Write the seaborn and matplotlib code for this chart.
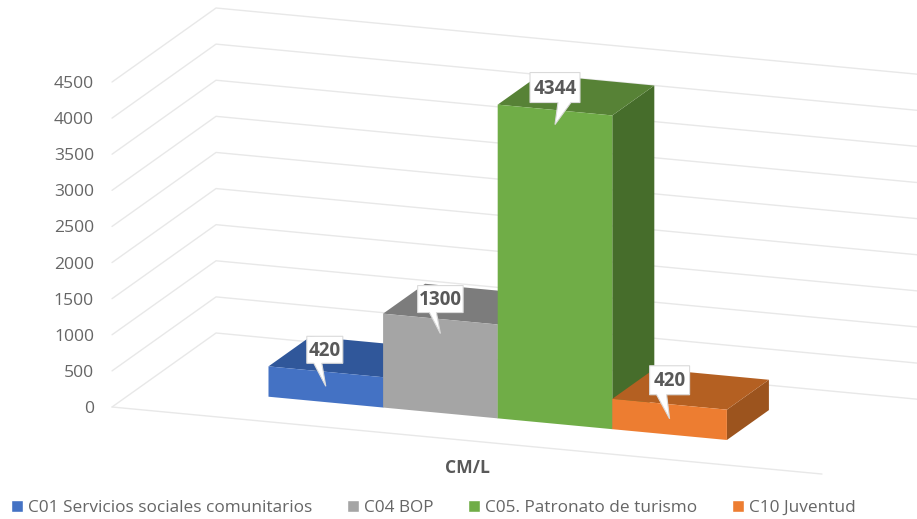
import matplotlib
matplotlib.use('Agg')
import pandas as pd
import seaborn as sns
import matplotlib.pyplot as plt
from matplotlib.patches import Polygon
from matplotlib.transforms import Affine2D, ScaledTranslation

series = ['C01 Servicios sociales comunitarios', 'C04 BOP', 'C05. Patronato de turismo', 'C10 Juventud']
values = [420, 1300, 4344, 420]
ticks = [0, 500, 1000, 1500, 2000, 2500, 3000, 3500, 4000, 4500]
axis_title = 'CM/L'

front_colors = ['#4472C4', '#A5A5A5', '#70AD47', '#ED7D31']
top_colors = ['#30579A', '#7C7C7C', '#578236', '#B46022']
side_colors = ['#2A4C86', '#6C6C6C', '#466D2B', '#9C541E']

W, H = 917, 519
bar_px = 114.6      # one bar width in pixels
px_per_val = 325 / 4500
x0_px = 294.7       # pixel of x=0 at depth 0
y0_px = 424.25      # pixel of value 0 at x=0, depth 0
skew = 10.82 / px_per_val    # floor drop per bar, in value units
depth_x = 104 / bar_px       # wall depth, in bar units
depth_v = 74 / px_per_val    # wall depth, in value units
bar_front, bar_back = 0.299, 0.703
x_min, x_max = -1.594, 4.601

grid_color = '#E8E8E8'
text_color = '#666666'
label_color = '#595959'

# callouts, in pixels around the tip: box width, height, rise, pointer base
box_w = [36, 45.5, 50, 40]
box_h = [27, 27, 30, 29]
box_rise = [23, 21, 22, 24]
base_l = [-12, -11, 3, -13]
base_r = [-4, -4, 16, -3]
box_dx = [-1, 0, 0, 0]


def project(x, v, d):
    return x + depth_x * d, v - skew * x + depth_v * d


sns.set_style('white')
plt.rcParams['font.family'] = ['Open Sans', 'DejaVu Sans']

fig = plt.figure(figsize=(W / 100, H / 100), dpi=100)
ax = fig.add_axes([0, 0, 1, 1])

df = pd.DataFrame({'serie': series, 'valor': values})
sns.barplot(data=df, x='serie', y='valor', hue='serie', palette=front_colors,
            width=1, dodge=False, saturation=1, legend=True, ax=ax)

ax.set_xlim(-x0_px / bar_px, (W - x0_px) / bar_px)
ax.set_ylim((y0_px - H) / px_per_val, y0_px / px_per_val)

# gridlines: left wall then back wall
for t in ticks:
    px, py = zip(project(x_min, t, 0), project(x_min, t, 1), project(x_max, t, 1))
    ax.plot(px, py, color=grid_color, lw=1, zorder=1)
    lx, ly = project(x_min, t, 0)
    ax.annotate(str(t), (lx, ly), xytext=(-18, -2), textcoords='offset pixels',
                ha='right', va='center', fontsize=12.6, color=text_color)
px, py = zip(project(x_min, 0, 0), project(x_max, 0, 0))
ax.plot(px, py, color=grid_color, lw=1, zorder=1)

shear = Affine2D.from_values(1, -skew, 0, 1, depth_x * bar_front, depth_v * bar_front)

for i, cont in enumerate(ax.containers):
    bar = cont[0]
    v = values[i]
    left, right = i - 0.5, i + 0.5
    bar.set_transform(shear + ax.transData)
    bar.set_linewidth(0)
    bar.set_zorder(2 + i + 0.2)

    top = [project(left, v, bar_front), project(right, v, bar_front),
           project(right, v, bar_back), project(left, v, bar_back)]
    side = [project(right, 0, bar_front), project(right, v, bar_front),
            project(right, v, bar_back), project(right, 0, bar_back)]
    ax.add_patch(Polygon(side, closed=True, fc=side_colors[i], ec='none', zorder=2 + i))
    ax.add_patch(Polygon(top, closed=True, fc=top_colors[i], ec='none', zorder=2 + i + 0.1))

# data callouts drawn last
for i, v in enumerate(values):
    tx, ty = project(i, v, bar_front)
    tip_y = ty - 14.5 / px_per_val
    at_tip = Affine2D() + ScaledTranslation(tx, tip_y, ax.transData)
    hw = box_w[i] / 2
    b0 = box_rise[i]
    b1 = b0 + box_h[i]
    dx = box_dx[i]
    shape = [(0, 0), (base_r[i], b0), (dx + hw, b0), (dx + hw, b1),
             (dx - hw, b1), (dx - hw, b0), (base_l[i], b0)]
    ax.add_patch(Polygon(shape, closed=True, fc='white', ec='#DADADA', lw=0.8,
                         transform=at_tip, zorder=10))
    ax.annotate(str(v), (tx, tip_y), xytext=(dx, (b0 + b1) / 2 - 1), textcoords='offset pixels',
                ha='center', va='center', fontsize=13.6, fontweight='bold',
                color=label_color, zorder=11)

ax.text(467 / W, 1 - 468 / H, axis_title, transform=ax.transAxes, ha='center', va='center',
        fontsize=12.6, fontweight='bold', color=label_color)

sns.move_legend(ax, 'center', bbox_to_anchor=(433.5 / W, 1 - 508 / H), ncol=4, title=None,
                frameon=False, fontsize=12.45, handlelength=0.68, handleheight=0.68,
                handletextpad=0.3, columnspacing=2.0, labelcolor=text_color,
                borderpad=0, borderaxespad=0)

ax.set_axis_off()
fig.savefig('out.png', dpi=100, facecolor='white')
